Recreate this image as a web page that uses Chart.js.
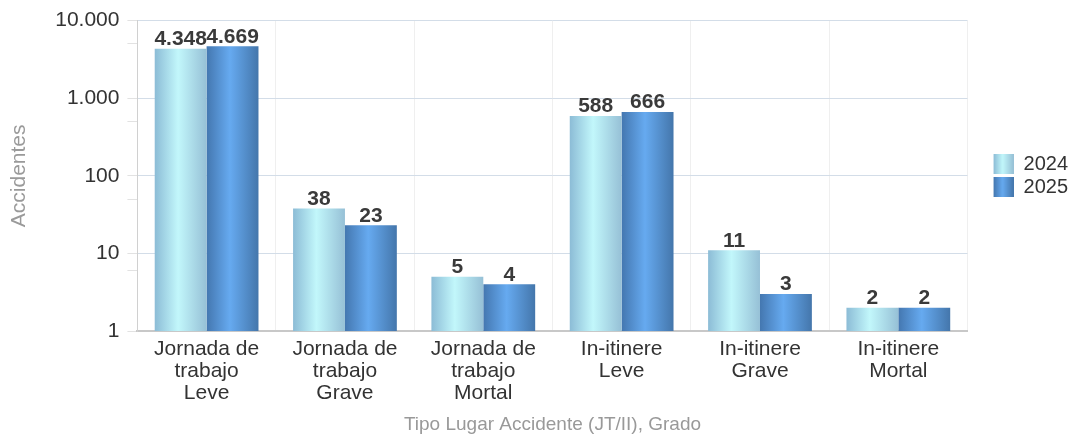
<!DOCTYPE html>
<html>
<head>
<meta charset="utf-8">
<script src="https://cdn.jsdelivr.net/npm/chart.js@4/dist/chart.umd.min.js"></script>
<style>
  html, body { margin: 0; padding: 0; background: #fff; }
  #wrap { width: 1072px; height: 440px; }
</style>
</head>
<body>
<div id="wrap"><canvas id="chart" width="1072" height="440"></canvas></div>
<script>
const categories = [
  ["Jornada de", "trabajo", "Leve"],
  ["Jornada de", "trabajo", "Grave"],
  ["Jornada de", "trabajo", "Mortal"],
  ["In-itinere", "Leve"],
  ["In-itinere", "Grave"],
  ["In-itinere", "Mortal"]
];
const seriesNames = ["2024", "2025"];
const values2024 = [4348, 38, 5, 588, 11, 2];
const values2025 = [4669, 23, 4, 666, 3, 2];
const yTicks = [1, 10, 100, 1000, 10000];

const gradStops = [
  ["#8cbcd6", "#c2f7fb", "#96c0d6"],
  ["#4477b0", "#66aaf0", "#4476ab"]
];

const font = "'Liberation Sans', Arial, sans-serif";

function fmt(n) {
  return String(n).replace(/\B(?=(\d{3})+(?!\d))/g, ".");
}

function makeGrad(ctx, x0, x1, stops) {
  const g = ctx.createLinearGradient(x0, 0, x1, 0);
  g.addColorStop(0, stops[0]);
  g.addColorStop(0.45, stops[1]);
  g.addColorStop(1, stops[2]);
  return g;
}

// legend icon: transparent lead-in, then the 20x20 gradient swatch
const ICON_W = 43;
function legendIcon(stops) {
  const c = document.createElement("canvas");
  c.width = ICON_W; c.height = 20;
  const cx = c.getContext("2d");
  cx.fillStyle = makeGrad(cx, ICON_W - 20, ICON_W, stops);
  cx.fillRect(ICON_W - 20, 0, 20, 20);
  return c;
}

const gradientBars = {
  id: "gradientBars",
  beforeDatasetsDraw(chart) {
    const ctx = chart.ctx;
    chart.data.datasets.forEach((ds, i) => {
      chart.getDatasetMeta(i).data.forEach(el => {
        const g = makeGrad(ctx, el.x - el.width / 2, el.x + el.width / 2, gradStops[i]);
        el.options = Object.assign({}, el.options, { backgroundColor: g });
      });
    });
  }
};

const valueLabels = {
  id: "valueLabels",
  afterDatasetsDraw(chart) {
    const ctx = chart.ctx;
    ctx.save();
    ctx.font = "bold 21px " + font;
    ctx.fillStyle = "#3a3a3a";
    ctx.textAlign = "center";
    ctx.textBaseline = "bottom";
    chart.data.datasets.forEach((ds, i) => {
      chart.getDatasetMeta(i).data.forEach((el, j) => {
        ctx.fillText(fmt(ds.data[j]), el.x, el.y + 1);
      });
    });
    ctx.restore();
  }
};

new Chart(document.getElementById("chart"), {
  type: "bar",
  data: {
    labels: categories,
    datasets: [
      { label: seriesNames[0], data: values2024, backgroundColor: "#a9dbe8", pointStyle: legendIcon(gradStops[0]) },
      { label: seriesNames[1], data: values2025, backgroundColor: "#5590d0", pointStyle: legendIcon(gradStops[1]) }
    ]
  },
  options: {
    responsive: false,
    animation: false,
    categoryPercentage: 0.75,
    barPercentage: 1,
    layout: { padding: { top: 4, right: -6, left: 4, bottom: 2 } },
    plugins: {
      legend: {
        position: "right",
        fullSize: false,
        labels: {
          usePointStyle: true,
          pointStyleWidth: ICON_W,
          boxWidth: 20, boxHeight: 20,
          padding: 3,
          color: "#333",
          font: { family: font, size: 20, lineHeight: 1 }
        }
      },
      tooltip: { enabled: false }
    },
    scales: {
      x: {
        grid: { color: "#efefef", drawTicks: false },
        border: { color: "#c8c8c8", width: 2 },
        ticks: {
          color: "#333", padding: 7, maxRotation: 0,
          font: { family: font, size: 21, lineHeight: 1.05 }
        },
        title: {
          display: true, text: "Tipo Lugar Accidente (JT/II), Grado",
          color: "#999", font: { family: font, size: 19 }, padding: { top: 2, bottom: 2 }
        }
      },
      y: {
        type: "logarithmic",
        min: 1, max: 10000,
        grid: {
          color: c => (c.tick && yTicks.includes(c.tick.value)) ? "#d3dde8" : "rgba(0,0,0,0)",
          tickColor: "#e2e2e2",
          tickLength: 10
        },
        border: { color: "#d0d0d0" },
        ticks: {
          color: "#333", padding: 8,
          font: { family: font, size: 21 },
          callback: v => yTicks.includes(v) ? fmt(v) : ""
        },
        title: {
          display: true, text: "Accidentes",
          color: "#9a9a9a", font: { family: font, size: 21 }, padding: { top: 3, bottom: 15 }
        }
      }
    }
  },
  plugins: [gradientBars, valueLabels]
});
</script>
</body>
</html>
